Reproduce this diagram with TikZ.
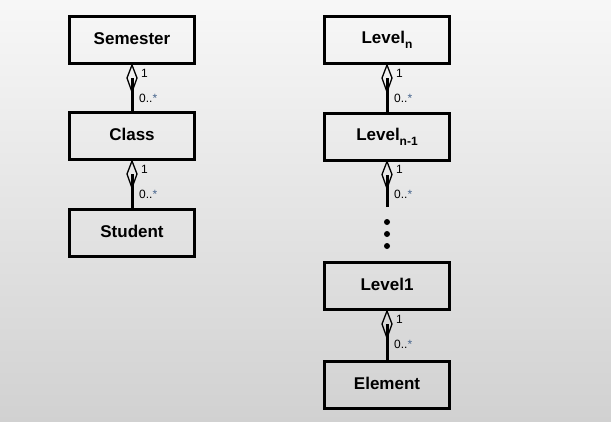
\documentclass[tikz,border=0pt]{standalone}
\usepackage{fontspec}
\setmainfont{Liberation Sans}
\usetikzlibrary{calc}
\definecolor{starblue}{RGB}{70,100,140}
\newcommand{\subsc}[1]{\raisebox{-5pt}{\fontsize{12}{12}\selectfont #1}}
\newcommand{\lbl}[1]{\raisebox{3pt}{#1}}
\begin{document}
\begin{tikzpicture}[x=1pt,y=-1pt,
  cls/.style={draw, line width=3pt, minimum width=125pt, minimum height=47pt, inner sep=0pt,
    font=\fontsize{17}{19}\selectfont\bfseries},
  assoc/.style={line width=3pt},
  diam/.style={line width=1.3pt, fill=none},
  mult/.style={font=\fontsize{12}{13}\selectfont, inner sep=0pt, anchor=west},
  dotc/.style={fill=black, circle, inner sep=0pt, minimum size=6pt}]
\shade[top color=black!3, bottom color=black!18] (0,0) rectangle (611,421);
\useasboundingbox (0,0) rectangle (611,421);

\node[cls] (semester) at (132,40) {\lbl{Semester}};
\node[cls] (class) at (132,136) {\lbl{Class}};
\node[cls] (student) at (132,233) {\lbl{Student}};

\node[cls] (leveln) at (387,40) {\lbl{Level\subsc{n}}};
\node[cls] (levelnm) at (387,136.5) {\lbl{Level\subsc{n-1}}};
\node[cls] (level1) at (387,286) {\lbl{Level1}};
\node[cls] (element) at (387,385) {\lbl{Element}};

\coordinate (freeend) at (387,207);

\newcommand{\compo}[2]{%
  \draw[assoc] (#2) -- ($(#1.south)+(0,13)$);
  \draw[diam] (#1.south) -- ++(5,13) -- ++(-5,14) -- ++(-5,-14) -- cycle;
  \node[mult] at ($(#1.south)+(9,8)$) {1};
  \node[mult] at ($(#1.south)+(7,33)$) {0..\textcolor{starblue}{*}};
}
\compo{semester}{class.north}
\compo{class}{student.north}
\compo{leveln}{levelnm.north}
\compo{levelnm}{freeend}
\compo{level1}{element.north}

\node[dotc] (d1) at (387,222) {};
\node[dotc] (d2) at (387,234) {};
\node[dotc] (d3) at (387,246) {};
\end{tikzpicture}
\end{document}
